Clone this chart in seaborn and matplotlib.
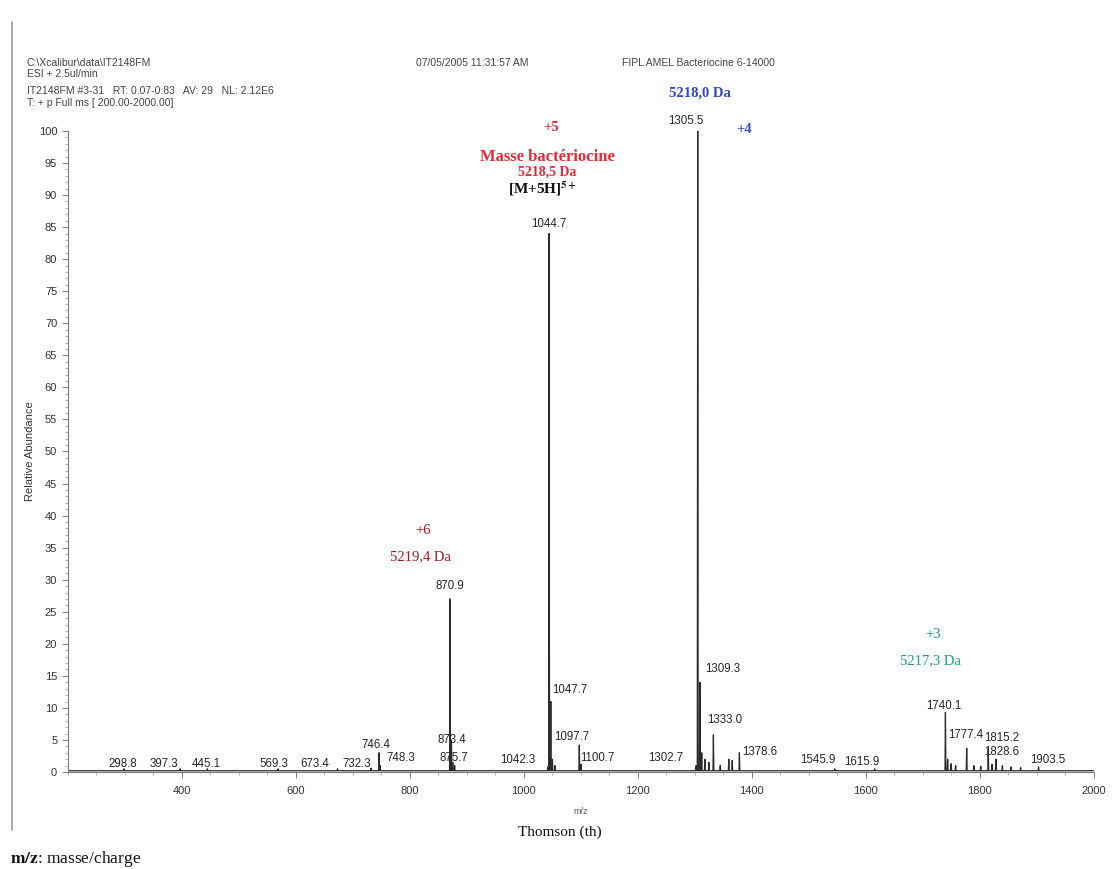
import matplotlib
matplotlib.use("Agg")
import matplotlib.pyplot as plt
from matplotlib.lines import Line2D
from matplotlib.ticker import MultipleLocator, FixedLocator
import numpy as np
import pandas as pd
import seaborn as sns

# ---- spectrum data: labelled centroids (m/z, relative abundance %) ----
peak_mz = [298.8, 397.3, 445.1, 569.3, 673.4, 732.3, 746.4, 748.3,
           870.9, 873.4, 875.7, 1042.3, 1044.7, 1047.7, 1097.7, 1100.7,
           1302.7, 1305.5, 1309.3, 1333.0, 1378.6, 1545.9, 1615.9,
           1740.1, 1777.4, 1815.2, 1828.6, 1903.5]
peak_int = [0.5, 0.5, 0.5, 0.5, 0.5, 0.6, 3.0, 1.0,
            27.0, 5.0, 1.5, 0.8, 84.0, 11.0, 4.2, 1.2,
            1.0, 100.0, 14.0, 5.8, 3.0, 0.5, 0.5,
            9.3, 3.7, 3.7, 2.0, 0.8]
peak_labels = ["298.8", "397.3", "445.1", "569.3", "673.4", "732.3", "746.4", "748.3",
               "870.9", "873.4", "875.7", "1042.3", "1044.7", "1047.7", "1097.7", "1100.7",
               "1302.7", "1305.5", "1309.3", "1333.0", "1378.6", "1545.9", "1615.9",
               "1740.1", "1777.4", "1815.2", "1828.6", "1903.5"]

# unlabelled minor features of the trace
minor_mz = [879.0, 1050.5, 1055.0, 1312.5, 1318.0, 1325.0, 1345.0, 1360.0, 1366.0,
            1744.0, 1750.0, 1758.0, 1790.0, 1802.0, 1822.0, 1840.0, 1855.0, 1872.0]
minor_int = [1.0, 2.0, 1.0, 3.0, 2.0, 1.5, 1.0, 2.0, 1.8,
             2.0, 1.3, 1.0, 1.0, 0.9, 1.2, 1.0, 0.8, 0.7]

baseline_level = 0.2
x_range = (200.0, 2000.0)

# label anchor points (m/z, abundance) for the peak annotations
label_x = [296, 369, 443, 562, 634, 708, 741, 784,
           870, 874, 877, 990, 1045, 1081, 1085, 1130,
           1250, 1284, 1349, 1352, 1414, 1516, 1594,
           1737, 1776, 1838, 1838, 1920]
label_y = [1.2, 1.2, 1.2, 1.2, 1.2, 1.2, 4.2, 2.2,
           29.0, 5.0, 2.2, 1.9, 85.5, 12.8, 5.5, 2.2,
           2.2, 101.5, 16.0, 8.1, 3.1, 1.9, 1.6,
           10.3, 5.8, 5.3, 3.1, 1.9]

# ---- build the profile trace from the peak lists ----
half_width = 0.8
all_mz = np.array(peak_mz + minor_mz)
all_int = np.array(peak_int + minor_int)
order = np.argsort(all_mz)
xs, ys = [x_range[0]], [baseline_level]
for m, h in zip(all_mz[order], all_int[order]):
    xs += [m - half_width, m, m + half_width]
    ys += [baseline_level, h, baseline_level]
xs.append(x_range[1])
ys.append(baseline_level)
trace = pd.DataFrame({"mz": xs, "abundance": ys})

# ---- figure ----
sns.set_style("ticks")
plt.rcParams["font.family"] = ["Liberation Sans", "DejaVu Sans"]
plt.rcParams["mathtext.fontset"] = "stix"

fig = plt.figure(figsize=(11.2, 8.69), dpi=100)
ax = fig.add_axes([0.0604, 0.1116, 0.9160, 0.7377])

sns.lineplot(data=trace, x="mz", y="abundance", ax=ax, sort=False,
             estimator=None, color="#2b2b2b", linewidth=0.9)

ax.set_xlim(*x_range)
ax.set_ylim(0, 100)
for s in ("top", "right"):
    ax.spines[s].set_visible(False)
for s in ("left", "bottom"):
    ax.spines[s].set_color("#7a7a7a")
    ax.spines[s].set_linewidth(0.8)

ax.xaxis.set_major_locator(FixedLocator(np.arange(400, 2001, 200)))
ax.xaxis.set_minor_locator(MultipleLocator(50))
ax.yaxis.set_major_locator(MultipleLocator(5))
ax.yaxis.set_minor_locator(MultipleLocator(1))
ax.tick_params(axis="both", which="major", labelsize=8, colors="#7a7a7a",
               labelcolor="#333333", length=4, width=0.7)
ax.tick_params(axis="both", which="minor", colors="#9a9a9a", length=2, width=0.5)
ax.tick_params(axis="x", which="major", pad=6)
ax.set_xlabel("m/z", fontsize=6.5, color="#555555", labelpad=8)
ax.set_ylabel("Relative Abundance", fontsize=8, color="#333333")
ax.yaxis.set_label_coords(-0.032, 0.5)

# peak value labels
for lx, ly, txt in zip(label_x, label_y, peak_labels):
    ax.text(lx, ly, txt, ha="center", va="center", fontsize=8.3,
            color="#262626", clip_on=False)

# charge-state annotations
serif = ["Liberation Serif", "DejaVu Serif"]
red, dark_red, blue, teal = "#e42a36", "#a3161f", "#2f47c2", "#1b9a83"
fig.text(0.492, 0.853, "+5", ha="center", va="center", color=red,
         fontsize=10.5, family=serif, fontweight="bold")
fig.text(0.489, 0.819, "Masse bactériocine", ha="center", va="center", color=red,
         fontsize=12, family=serif, fontweight="bold")
fig.text(0.489, 0.802, "5218,5 Da", ha="center", va="center", color=red,
         fontsize=10, family=serif, fontweight="bold")
fig.text(0.484, 0.783, r"[M+5H]$^{\mathbf{5+}}$", ha="center", va="center",
         color="#111111", fontsize=11, family=serif, fontweight="bold")
fig.text(0.625, 0.893, "5218,0 Da", ha="center", va="center", color=blue,
         fontsize=10.5, family=serif, fontweight="bold")
fig.text(0.664, 0.851, "+4", ha="center", va="center", color=blue,
         fontsize=10.5, family=serif, fontweight="bold")
fig.text(0.378, 0.389, "+6", ha="center", va="center", color=dark_red,
         fontsize=10.5, family=serif)
fig.text(0.375, 0.359, "5219,4 Da", ha="center", va="center", color=dark_red,
         fontsize=10.5, family=serif)
fig.text(0.833, 0.270, "+3", ha="center", va="center", color=teal,
         fontsize=10.5, family=serif)
fig.text(0.831, 0.240, "5217,3 Da", ha="center", va="center", color=teal,
         fontsize=10.5, family=serif)

# instrument header
hdr = dict(fontsize=7.5, color="#444444", va="center", ha="left")
fig.text(0.024, 0.928, r"C:\Xcalibur\data\IT2148FM", **hdr)
fig.text(0.024, 0.915, "ESI + 2.5ul/min", **hdr)
fig.text(0.024, 0.895, "IT2148FM #3-31   RT: 0.07-0.83   AV: 29   NL: 2.12E6", **hdr)
fig.text(0.024, 0.882, "T: + p Full ms [ 200.00-2000.00]", **hdr)
fig.text(0.371, 0.928, "07/05/2005 11:31:57 AM", **hdr)
fig.text(0.555, 0.928, "FIPL AMEL Bacteriocine 6-14000", **hdr)

# axis captions below the plot
fig.text(0.500, 0.042, "Thomson (th)", ha="center", va="center",
         fontsize=11, family=serif, color="#111111")
fig.text(0.009, 0.011, r"$\mathbf{m/z}$: masse/charge", ha="left", va="center",
         fontsize=12.5, family=serif, color="#111111")

# page margin line
fig.add_artist(Line2D([0.0107, 0.0107], [0.045, 0.975], transform=fig.transFigure,
                      color="#9a9a9a", linewidth=1.2))

fig.savefig("out.png", dpi=100)
